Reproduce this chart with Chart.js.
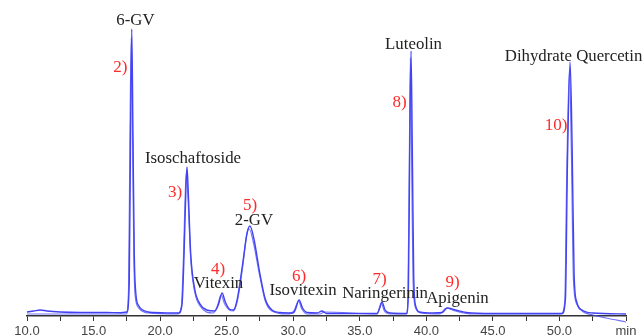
<!DOCTYPE html>
<html>
<head>
<meta charset="utf-8">
<script src="https://cdn.jsdelivr.net/npm/chart.js@4/dist/chart.umd.min.js"></script>
<style>
html,body{margin:0;padding:0;background:#fff;}
#wrap{width:643px;height:336px;position:relative;}
</style>
</head>
<body>
<div id="wrap"><canvas id="c" width="643" height="336"></canvas></div>
<script>
// Retention time (min) and detector response (arbitrary units)
const traceATime = [10.0,10.5,11.0,11.5,12.5,14.0,16.0,17.0,17.5,17.68,17.78,17.87,17.96,18.06,18.18,18.4,18.7,19.1,19.5,20.5,21.4,21.65,21.8,21.95,22.02,22.12,22.3,22.6,23.0,23.5,24.1,24.4,24.65,24.9,25.2,25.5,25.8,26.2,26.55,26.75,27.05,27.5,27.9,28.4,29.0,30.0,30.15,30.44,30.7,31.05,31.8,32.16,32.5,34.0,36.3,36.5,36.67,36.9,37.3,38.5,38.65,38.75,38.85,38.95,39.05,39.2,39.5,40.5,41.2,41.56,42.2,43.0,45.0,50.2,50.45,50.6,50.8,50.95,51.1,51.3,51.7,52.5,55.0];
const traceAValue = [2,3,4,3,2,1.5,1.5,1.2,2,30,180,285,180,60,20,8,4,2,1.5,1,1,10,60,130,147,120,60,25,10,4,3,10,21,12,5,4,15,50,82,88,75,40,15,4,1.5,1,4,14,6,1.5,1,3,0.5,0.5,0.5,6,12,4,1,0.5,20,160,263,160,40,8,2,1,1.5,6,4,1.5,0.5,0.5,15,150,252,170,40,12,4,1,0];

const traceBTime = [10.0,12.0,15.0,17.45,17.63,17.73,17.83,17.93,18.03,18.13,18.4,19.1,21.3,21.6,21.75,21.9,21.98,22.1,22.3,22.6,23.0,24.0,24.3,24.58,24.85,25.2,25.5,25.8,26.2,26.5,26.7,27.0,27.5,27.9,28.4,29.5,30.05,30.4,30.65,31.05,32.0,32.35,36.3,36.45,36.6,36.85,37.3,38.5,38.62,38.72,38.8,38.9,39.0,39.2,39.6,41.0,41.5,42.2,43.5,50.1,50.4,50.55,50.75,50.9,51.05,51.3,51.8,52.5,53.5,55.0];
const traceBValue = [0,0,0,0,25,170,276,175,55,18,6,1,0,8,55,125,142,115,55,22,8,1,8,19,10,4,3,13,47,79,85,72,37,13,3,0,3,13,5,0,0,2,0,5,11,3,0,0,18,150,256,150,35,6,1,0,6,3,0,0,12,140,245,160,35,10,2,-1,-4,-8];

// Tick settings for the retention-time axis
const timeMin = 10, timeMax = 55, timeStep = 2.5;
const axisUnit = 'min';

// Peak annotations: name label and peak number, anchored in data units
const peakNames = ['6-GV','Isoschaftoside','Vitexin','2-GV','Isovitexin','Naringerinin','Luteolin','Apigenin','Dihydrate Quercetin'];
const peakNameTime = [18.15,22.47,24.39,27.05,30.74,36.90,39.04,42.34,51.06];
const peakNameValue = [293.5,155,30,93,23,20,269.5,15,257.5];
const peakNumbers = ['2)','3)','4)','5)','6)','7)','8)','9)','10)'];
const peakNumberTime = [17.02,21.12,24.35,26.75,30.44,36.48,37.99,41.97,49.74];
const peakNumberValue = [246,121.5,44.5,108.5,37.5,34,211,31,188];

const toPoints = (xs, ys) => xs.map((x, i) => ({x, y: ys[i]}));

const labelPlugin = {
  id: 'peakLabels',
  afterDatasetsDraw(chart) {
    const ctx = chart.ctx, xs = chart.scales.x, ys = chart.scales.y;
    ctx.save();
    ctx.textAlign = 'center';
    ctx.textBaseline = 'middle';
    ctx.font = '16px "Liberation Serif", "Times New Roman", serif';
    ctx.fillStyle = '#222';
    peakNames.forEach((t, i) => {
      const px = xs.getPixelForValue(peakNameTime[i]), py = ys.getPixelForValue(peakNameValue[i]);
      ctx.save();
      ctx.translate(px, py);
      ctx.scale(1.05, 1);
      ctx.fillText(t, 0, 0);
      ctx.restore();
    });
    ctx.font = '17px "Liberation Serif", "Times New Roman", serif';
    ctx.fillStyle = '#ff2a2a';
    peakNumbers.forEach((t, i) => {
      ctx.fillText(t, xs.getPixelForValue(peakNumberTime[i]), ys.getPixelForValue(peakNumberValue[i]));
    });
    ctx.restore();
  }
};

new Chart(document.getElementById('c'), {
  type: 'line',
  data: {
    datasets: [
      {data: toPoints(traceBTime, traceBValue), borderColor: 'rgba(70,70,245,0.75)', borderWidth: 1.2, pointRadius: 0, cubicInterpolationMode: 'monotone', clip: false},
      {data: toPoints(traceATime, traceAValue), borderColor: 'rgba(45,45,240,0.9)', borderWidth: 1.4, pointRadius: 0, cubicInterpolationMode: 'monotone', clip: false}
    ]
  },
  options: {
    responsive: false,
    animation: false,
    layout: {padding: {left: 27, right: 17, top: 14, bottom: 0}},
    plugins: {legend: {display: false}, tooltip: {enabled: false}},
    scales: {
      x: {
        type: 'linear', min: timeMin, max: timeMax,
        afterFit: s => { s.height = 20; },
        afterBuildTicks: s => {
          const t = [];
          for (let v = timeMin; v <= timeMax + 1e-9; v += timeStep) t.push({value: v});
          s.ticks = t;
        },
        ticks: {
          autoSkip: false, maxRotation: 0, padding: 3, color: '#444',
          font: {family: '"Liberation Sans", Arial, sans-serif', size: 13},
          callback: v => (Math.abs(v - timeMax) < 1e-6 ? axisUnit : (Math.abs(v % 5) < 1e-6 ? v.toFixed(1) : ''))
        },
        grid: {drawOnChartArea: false, drawTicks: true, tickLength: 5, color: '#333'},
        border: {color: '#333', width: 1.5}
      },
      y: {type: 'linear', min: -2, max: 300, display: false}
    }
  },
  plugins: [labelPlugin]
});
</script>
</body>
</html>
